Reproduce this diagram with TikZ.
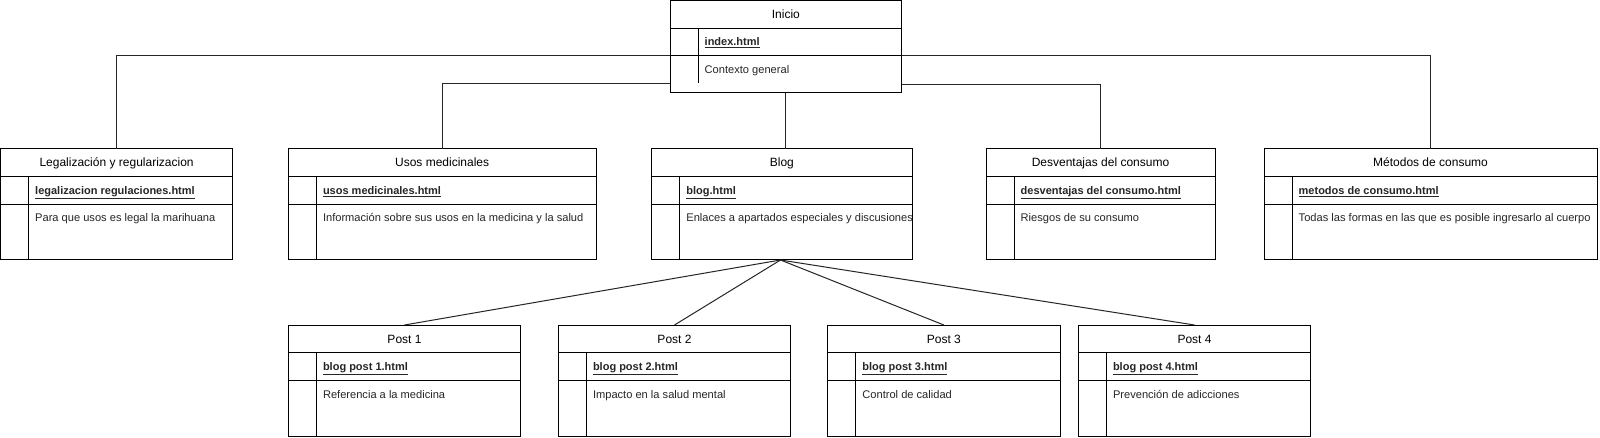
\documentclass[tikz,border=0pt]{standalone}
\usepackage{fontspec}
\setmainfont{Liberation Sans}
\usetikzlibrary{calc}
\tikzset{
  frame/.style={draw=black, line width=1pt},
  conn/.style={draw=black!85, line width=1pt},
  hdr/.style={inner sep=0pt, anchor=base, font=\fontsize{12}{14}\selectfont, text=black},
  keytxt/.style={inner sep=0pt, anchor=base west, font=\fontsize{11}{13}\selectfont\bfseries, text=black!85},
  bodytxt/.style={inner sep=0pt, anchor=base west, font=\fontsize{11.1}{13}\selectfont, text=black!85},
}
% #1 name, #2 x1, #3 x2, #4 ytop, #5 ybot, #6 inner line end, #7 header, #8 key, #9 body
\newcommand\dbtable[9]{%
  \node[frame, fill=white, inner sep=0pt, outer sep=0pt, anchor=north west,
        minimum width={#3-#2}, minimum height={#5-#4}] (#1) at (#2,#4) {};
  \draw[frame] (#2,#4+27.7) -- (#3,#4+27.7);
  \draw[frame] (#2,#4+55.5) -- (#3,#4+55.5);
  \draw[frame] (#2+28,#4+27.7) -- (#2+28,#6);
  \node[hdr] (#1-h) at ({(#2+#3)/2},#4+18) {#7};
  \node[keytxt] (#1-k) at (#2+34.5,#4+45.5) {\underline{#8}};
  \node[bodytxt] (#1-b) at (#2+34.5,#4+73) {#9};
}
\begin{document}
\begin{tikzpicture}[x=1pt,y=-1pt]
\useasboundingbox (0,0) rectangle (1600,438);
\fill[white] (0,0) rectangle (1600,438);

\coordinate (iL1) at (670,56);
\coordinate (iL2) at (670,83.3);
\coordinate (iR1) at (901.7,55.7);
\coordinate (iR2) at (901.7,84.3);
\coordinate (iS) at (785.5,92.7);
\coordinate (bS) at (780.5,260);

\dbtable{Inicio}{670}{901.7}{0.5}{92.7}{83}{Inicio}{index.html}{Contexto general}

\dbtable{Legal}{0.5}{232.7}{149}{259.5}{259.5}{Legalización y regularizacion}{legalizacion regulaciones.html}{Para que usos es legal la marihuana}
\dbtable{Usos}{288.3}{596}{149}{259.5}{259.5}{Usos medicinales}{usos medicinales.html}{Información sobre sus usos en la medicina y la salud}
\dbtable{Blog}{651.7}{912}{149}{259.5}{259.5}{Blog}{blog.html}{Enlaces a apartados especiales y discusiones}
\dbtable{Desv}{986}{1215}{149}{259.5}{259.5}{Desventajas del consumo}{desventajas del consumo.html}{Riesgos de su consumo}
\dbtable{Metodos}{1264}{1597}{149}{259.5}{259.5}{Métodos de consumo}{metodos de consumo.html}{Todas las formas en las que es posible ingresarlo al cuerpo}

\dbtable{PostA}{288.3}{520.7}{325}{436.7}{436.7}{Post 1}{blog post 1.html}{Referencia a la medicina}
\dbtable{PostB}{558.3}{790.7}{325}{436.7}{436.7}{Post 2}{blog post 2.html}{Impacto en la salud mental}
\dbtable{PostC}{827.7}{1060}{325}{436.7}{436.7}{Post 3}{blog post 3.html}{Control de calidad}
\dbtable{PostD}{1078.3}{1310.7}{325}{436.7}{436.7}{Post 4}{blog post 4.html}{Prevención de adicciones}

\draw[conn] (iL1) -| (Legal.north);
\draw[conn] (iL2) -| (Usos.north);
\draw[conn] (iR1) -| (Metodos.north);
\draw[conn] (iR2) -| (Desv.north);
\draw[conn] (iS) -- (iS |- Blog.north);
\draw[conn] (bS) -- (PostA.north);
\draw[conn] (bS) -- (PostB.north);
\draw[conn] (bS) -- (PostC.north);
\draw[conn] (bS) -- (PostD.north);
\end{tikzpicture}
\end{document}
